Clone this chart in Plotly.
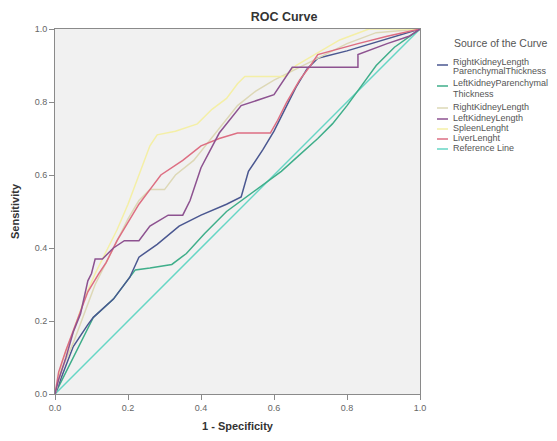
import plotly.graph_objects as go

# ---------------- data ----------------
series_names = [
    "RightKidneyLength ParenchymalThickness",
    "LeftKidneyParenchymal Thickness",
    "RightKidneyLength",
    "LeftKidneyLength",
    "SpleenLenght",
    "LiverLenght",
    "Reference Line",
]
legend_labels = [
    ["RightKidneyLength", "ParenchymalThickness"],
    ["LeftKidneyParenchymal", "Thickness"],
    ["RightKidneyLength"],
    ["LeftKidneyLength"],
    ["SpleenLenght"],
    ["LiverLenght"],
    ["Reference Line"],
]
legend_title = "Source of the Curve"
x_ticks = [0.0, 0.2, 0.4, 0.6, 0.8, 1.0]
x_tick_labels = ["0.0", "0.2", "0.4", "0.6", "0.8", "1.0"]
y_ticks = [0.0, 0.2, 0.4, 0.6, 0.8, 1.0]
y_tick_labels = ["0.0", "0.2", "0.4", "0.6", "0.8", "1.0"]

rk_pt_fpr = [0, 0.02, 0.05, 0.09, 0.105, 0.16, 0.205, 0.23, 0.28, 0.34, 0.40, 0.47, 0.51,
             0.53, 0.57, 0.60, 0.63, 0.66, 0.69, 0.72, 0.80, 0.90, 1.0]
rk_pt_tpr = [0, 0.05, 0.13, 0.19, 0.21, 0.26, 0.32, 0.375, 0.41, 0.46, 0.49, 0.52, 0.54,
             0.61, 0.67, 0.72, 0.78, 0.84, 0.89, 0.92, 0.94, 0.97, 1.0]

lk_pt_fpr = [0, 0.02, 0.05, 0.08, 0.105, 0.16, 0.205, 0.22, 0.26, 0.32, 0.36, 0.41, 0.47,
             0.51, 0.56, 0.62, 0.67, 0.72, 0.76, 0.80, 0.84, 0.88, 0.93, 0.97, 1.0]
lk_pt_tpr = [0, 0.04, 0.10, 0.16, 0.21, 0.26, 0.32, 0.34, 0.345, 0.355, 0.385, 0.44, 0.50,
             0.53, 0.565, 0.61, 0.655, 0.70, 0.74, 0.79, 0.845, 0.90, 0.95, 0.98, 1.0]

rk_len_fpr = [0, 0.02, 0.05, 0.08, 0.11, 0.14, 0.17, 0.20, 0.23, 0.26, 0.30, 0.33, 0.38,
              0.42, 0.46, 0.50, 0.55, 0.60, 0.66, 0.72, 0.80, 0.88, 1.0]
rk_len_tpr = [0, 0.07, 0.14, 0.22, 0.30, 0.36, 0.42, 0.48, 0.53, 0.56, 0.56, 0.60, 0.64,
              0.69, 0.74, 0.79, 0.83, 0.86, 0.89, 0.92, 0.96, 0.99, 1.0]

lk_len_fpr = [0, 0.01, 0.03, 0.05, 0.07, 0.08, 0.09, 0.10, 0.11, 0.13, 0.16, 0.19, 0.23,
              0.26, 0.31, 0.35, 0.37, 0.40, 0.45, 0.51, 0.60, 0.65, 0.83, 0.83, 0.91, 0.97, 1.0]
lk_len_tpr = [0, 0.04, 0.10, 0.17, 0.22, 0.27, 0.31, 0.33, 0.37, 0.37, 0.40, 0.42, 0.42,
              0.46, 0.49, 0.49, 0.53, 0.62, 0.715, 0.79, 0.82, 0.895, 0.895, 0.93, 0.96, 0.98, 1.0]

spleen_fpr = [0, 0.02, 0.05, 0.08, 0.11, 0.14, 0.17, 0.20, 0.23, 0.26, 0.28, 0.33, 0.39,
              0.43, 0.47, 0.50, 0.52, 0.63, 0.66, 0.72, 0.78, 0.86, 1.0]
spleen_tpr = [0, 0.09, 0.17, 0.26, 0.33, 0.39, 0.45, 0.52, 0.60, 0.68, 0.71, 0.72, 0.74,
              0.78, 0.81, 0.85, 0.87, 0.87, 0.90, 0.935, 0.97, 1.0, 1.0]

liver_fpr = [0, 0.01, 0.03, 0.06, 0.09, 0.12, 0.14, 0.17, 0.20, 0.23, 0.26, 0.29, 0.35,
             0.40, 0.45, 0.50, 0.59, 0.61, 0.635, 0.67, 0.70, 0.72, 0.83, 0.91, 1.0]
liver_tpr = [0, 0.06, 0.12, 0.20, 0.28, 0.33, 0.36, 0.42, 0.47, 0.52, 0.56, 0.60, 0.64,
             0.68, 0.70, 0.715, 0.715, 0.75, 0.80, 0.86, 0.90, 0.93, 0.96, 0.98, 1.0]

ref_fpr = [0, 1]
ref_tpr = [0, 1]

all_fpr = [rk_pt_fpr, lk_pt_fpr, rk_len_fpr, lk_len_fpr, spleen_fpr, liver_fpr, ref_fpr]
all_tpr = [rk_pt_tpr, lk_pt_tpr, rk_len_tpr, lk_len_tpr, spleen_tpr, liver_tpr, ref_tpr]

# ---------------- style ----------------
colors = ["#4a5790", "#3fae8a", "#ddd8b6", "#8d5290", "#f4efa6", "#dd6e82", "#66d6c5"]
draw_order = [6, 1, 0, 2, 4, 5, 3]

W, H = 557, 441
L, R, T, B = 55, 137, 29, 47
PW, PH = W - L - R, H - T - B

def px_x(px):
    return (px - L) / PW

def px_y(py):
    return (H - B - py) / PH

fig = go.Figure()
for i in draw_order:
    fig.add_trace(go.Scatter(
        x=all_fpr[i], y=all_tpr[i], mode="lines", name=series_names[i],
        line=dict(color=colors[i], width=1.5), showlegend=False,
        cliponaxis=False,
    ))

font_family = "Liberation Sans, Arial, sans-serif"

# manual legend (SPSS style)
annotations = [dict(
    text=legend_title, xref="paper", yref="paper", x=px_x(452), y=px_y(43),
    xanchor="left", yanchor="middle", showarrow=False,
    font=dict(size=10.5, color="#555555", family=font_family),
)]
shapes = []
line_ys = [[62, 71], [83, 94], [107], [118], [128], [138], [148]]
for i, labels in enumerate(legend_labels):
    for j, lab in enumerate(labels):
        annotations.append(dict(
            text=lab, xref="paper", yref="paper", x=px_x(451), y=px_y(line_ys[i][j]),
            xanchor="left", yanchor="middle", showarrow=False,
            font=dict(size=9, color="#555555", family=font_family),
        ))
    sy = line_ys[i][0] + (3 if len(labels) > 1 else 1)
    shapes.append(dict(
        type="line", xref="paper", yref="paper",
        x0=px_x(437), x1=px_x(448), y0=px_y(sy), y1=px_y(sy),
        line=dict(color=colors[i], width=1.5),
    ))

fig.update_layout(
    width=W, height=H,
    margin=dict(l=L, r=R, t=T, b=B, autoexpand=False),
    paper_bgcolor="white",
    plot_bgcolor="#f1f1f1",
    font=dict(family=font_family),
    title=dict(
        text="<b>ROC Curve</b>", x=284 / W, xanchor="center",
        y=1 - 17 / H, yanchor="middle", yref="container",
        font=dict(size=12.5, color="#333333", family=font_family),
    ),
    showlegend=False,
    annotations=annotations,
    shapes=shapes,
    xaxis=dict(
        range=[0, 1], tickvals=x_ticks, ticktext=x_tick_labels,
        showgrid=False, zeroline=False,
        showline=True, mirror=True, linecolor="#8a8a8a", linewidth=1,
        ticks="outside", ticklen=5, tickcolor="#8a8a8a",
        tickfont=dict(size=9, color="#666666"),
        title=dict(text="<b>1 - Specificity</b>", standoff=10,
                   font=dict(size=11, color="#333333")),
    ),
    yaxis=dict(
        range=[0, 1], tickvals=y_ticks, ticktext=y_tick_labels,
        showgrid=False, zeroline=False,
        showline=True, mirror=True, linecolor="#8a8a8a", linewidth=1,
        ticks="outside", ticklen=5, tickcolor="#8a8a8a",
        tickfont=dict(size=9, color="#666666"),
        title=dict(text="<b>Sensitivity</b>", standoff=12,
                   font=dict(size=11, color="#333333")),
    ),
)

fig.write_html("out.html")
